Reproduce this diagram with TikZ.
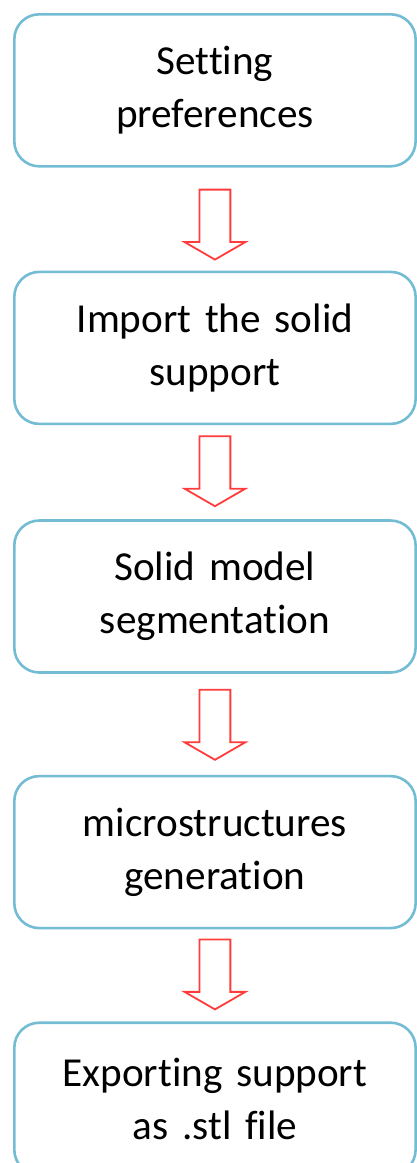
\documentclass[tikz,border=0pt]{standalone}
\usepackage{fontspec}
\setmainfont{Carlito}[Ligatures={NoCommon}]
\usetikzlibrary{shapes.arrows, positioning}

\definecolor{boxline}{RGB}{115,188,212}
\definecolor{arrowred}{RGB}{255,60,60}

\tikzset{
  stepbox/.style={draw=boxline, line width=1.3pt, rounded corners=12.5pt, minimum width=200pt, minimum height=76pt, text width=194pt, align=center, font=\fontsize{20.6}{26.5}\selectfont},
  downarrow/.style={single arrow, draw=arrowred, fill=white, line width=0.9pt, shape border rotate=270, single arrow head extend=7.5pt, single arrow tip angle=120, minimum height=35pt, inner sep=7.25pt, outer sep=0pt, anchor=tail}
}

\begin{document}
\begin{tikzpicture}
\useasboundingbox (0,0) rectangle (208.5pt,-581.5pt);
% process steps
\node[stepbox, anchor=north west] (s1) at (6.5pt,-6.5pt) {Setting\\preferences};
\node[stepbox, below=51.5pt of s1] (s2) {Import the solid\\support};
\node[stepbox, below=47pt of s2] (s3) {Solid model\\segmentation};
\node[stepbox, below=50.5pt of s3] (s4) {microstructures\\generation};
\node[stepbox, below=46pt of s4] (s5) {Exporting support\\as .stl file};
% hollow arrows between the steps
\node[downarrow] (a1) at ([yshift=-11pt]s1.south) {};
\node[downarrow] (a2) at ([yshift=-5.5pt]s2.south) {};
\node[downarrow] (a3) at ([yshift=-8pt]s3.south) {};
\node[downarrow] (a4) at ([yshift=-5pt]s4.south) {};
\end{tikzpicture}
\end{document}
